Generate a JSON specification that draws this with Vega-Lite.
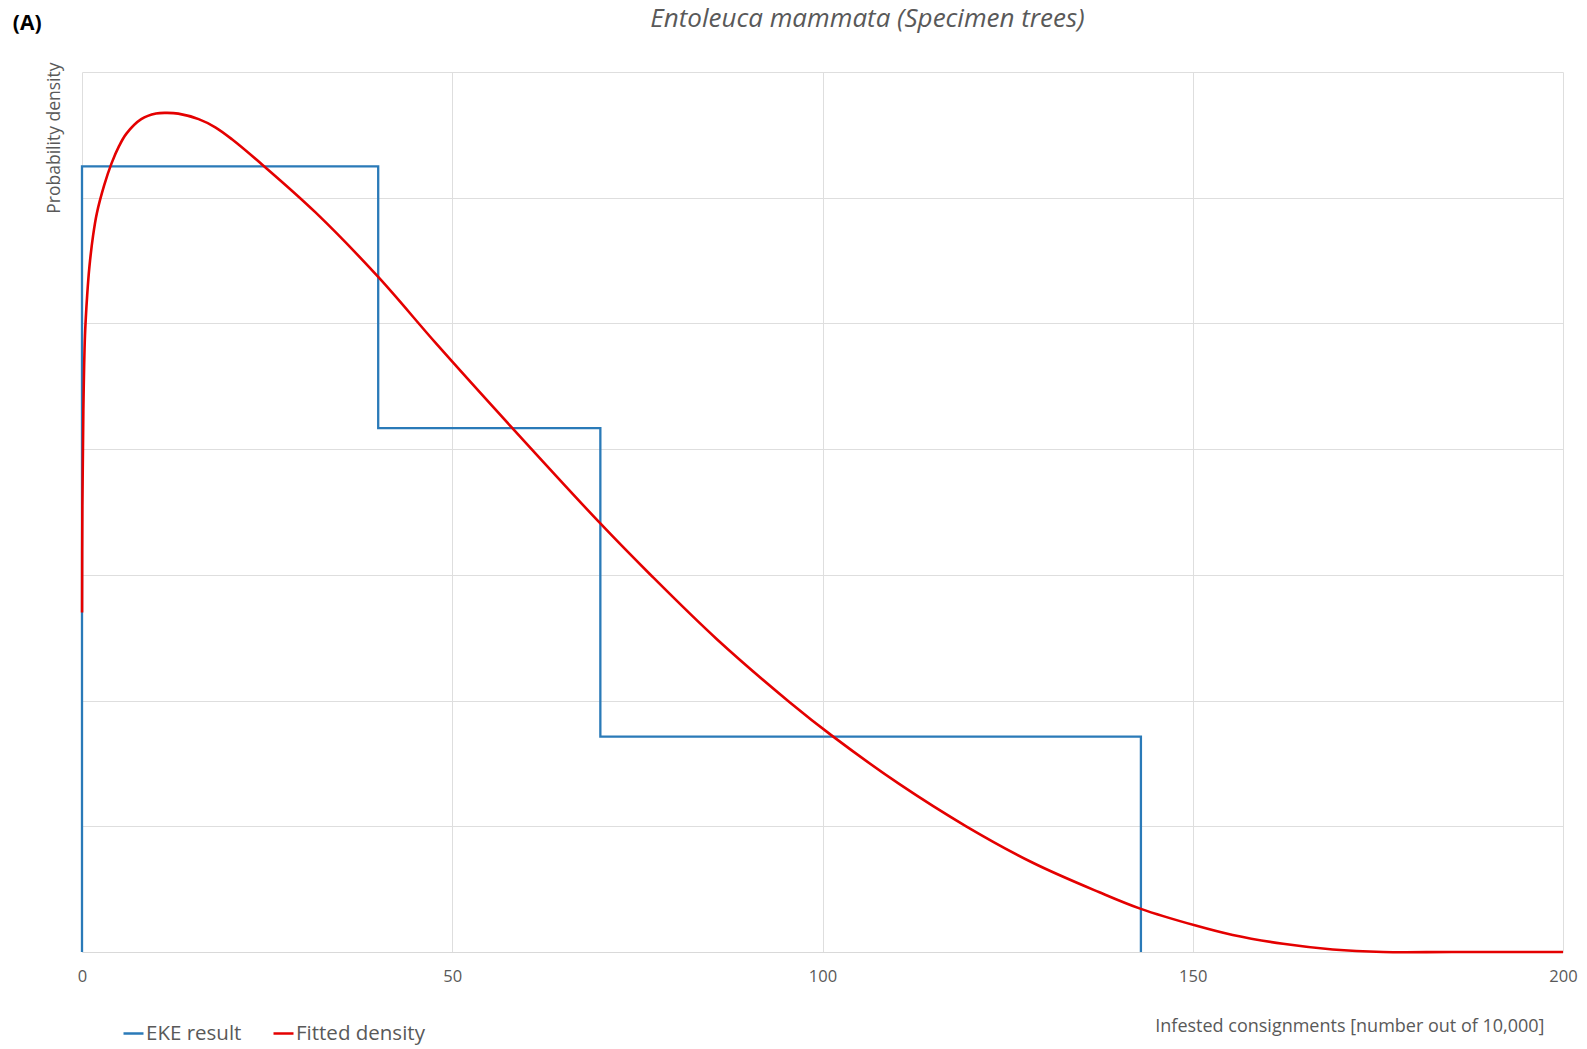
{
  "$schema": "https://vega.github.io/schema/vega-lite/v6.json",
  "autosize": "none",
  "width": 1481,
  "height": 880,
  "padding": {"left": 82, "top": 72, "right": 24, "bottom": 97},
  "background": "white",
  "title": {
    "text": "Entoleuca mammata (Specimen trees)",
    "font": "Open Sans",
    "fontStyle": "italic",
    "fontWeight": "normal",
    "fontSize": 26,
    "color": "#595959",
    "anchor": "middle",
    "dx": 45,
    "offset": -19
  },
  "config": {
    "view": {"stroke": null},
    "font": "Open Sans",
    "axis": {
      "gridColor": "#dedede",
      "gridWidth": 1,
      "domainColor": "#d9d9d9",
      "ticks": false,
      "labelFont": "Open Sans",
      "titleFont": "Open Sans",
      "labelColor": "#595959",
      "titleColor": "#595959",
      "titleFontWeight": "normal"
    }
  },
  "datasets": {
    "eke": [
      {"series": "EKE result", "x": 0, "y": 0, "order": 1},
      {"series": "EKE result", "x": 0, "y": 0.0125, "order": 2},
      {"series": "EKE result", "x": 40, "y": 0.0125, "order": 3},
      {"series": "EKE result", "x": 40, "y": 0.008333, "order": 4},
      {"series": "EKE result", "x": 70, "y": 0.008333, "order": 5},
      {"series": "EKE result", "x": 70, "y": 0.003425, "order": 6},
      {"series": "EKE result", "x": 143, "y": 0.003425, "order": 7},
      {"series": "EKE result", "x": 143, "y": 0, "order": 8}
    ],
    "fit": [
      {"series": "Fitted density", "x": 0.01, "y": 0.0054},
      {"series": "Fitted density", "x": 0.05, "y": 0.0071},
      {"series": "Fitted density", "x": 0.18, "y": 0.0086},
      {"series": "Fitted density", "x": 0.4, "y": 0.0098},
      {"series": "Fitted density", "x": 0.7, "y": 0.01045},
      {"series": "Fitted density", "x": 1.0, "y": 0.0109},
      {"series": "Fitted density", "x": 1.5, "y": 0.0114},
      {"series": "Fitted density", "x": 2.0, "y": 0.01175},
      {"series": "Fitted density", "x": 3.0, "y": 0.0122},
      {"series": "Fitted density", "x": 4.0, "y": 0.01255},
      {"series": "Fitted density", "x": 5.0, "y": 0.01282},
      {"series": "Fitted density", "x": 6.0, "y": 0.01302},
      {"series": "Fitted density", "x": 8.0, "y": 0.01325},
      {"series": "Fitted density", "x": 10.0, "y": 0.01334},
      {"series": "Fitted density", "x": 11.5, "y": 0.01335},
      {"series": "Fitted density", "x": 13.0, "y": 0.013338},
      {"series": "Fitted density", "x": 15.75, "y": 0.01325},
      {"series": "Fitted density", "x": 18.0, "y": 0.01312},
      {"series": "Fitted density", "x": 20.25, "y": 0.01293},
      {"series": "Fitted density", "x": 24.5, "y": 0.01251},
      {"series": "Fitted density", "x": 31.5, "y": 0.01177},
      {"series": "Fitted density", "x": 40, "y": 0.01074},
      {"series": "Fitted density", "x": 47.9, "y": 0.00967},
      {"series": "Fitted density", "x": 58, "y": 0.00835},
      {"series": "Fitted density", "x": 69.9, "y": 0.00683},
      {"series": "Fitted density", "x": 76.7, "y": 0.00601},
      {"series": "Fitted density", "x": 85.7, "y": 0.00498},
      {"series": "Fitted density", "x": 95.6, "y": 0.00397},
      {"series": "Fitted density", "x": 101.4, "y": 0.00343},
      {"series": "Fitted density", "x": 110.4, "y": 0.00267},
      {"series": "Fitted density", "x": 119.4, "y": 0.002},
      {"series": "Fitted density", "x": 128.4, "y": 0.00142},
      {"series": "Fitted density", "x": 137.4, "y": 0.00095},
      {"series": "Fitted density", "x": 142.9, "y": 0.00069},
      {"series": "Fitted density", "x": 150.4, "y": 0.00042},
      {"series": "Fitted density", "x": 155.4, "y": 0.00027},
      {"series": "Fitted density", "x": 162.2, "y": 0.00013},
      {"series": "Fitted density", "x": 168.9, "y": 0.00004},
      {"series": "Fitted density", "x": 175.7, "y": 0},
      {"series": "Fitted density", "x": 185, "y": 0},
      {"series": "Fitted density", "x": 200, "y": 0}
    ],
    "panel": [
      {"label": "(A)", "x": -7.4, "y": 0.01476}
    ]
  },
  "layer": [
    {
      "data": {"name": "eke"},
      "mark": {"type": "line", "strokeWidth": 2.3, "interpolate": "linear"},
      "encoding": {
        "x": {
          "field": "x",
          "type": "quantitative",
          "scale": {"domain": [0, 200], "nice": false, "zero": false},
          "axis": {
            "values": [0, 50, 100, 150, 200],
            "labelFontSize": 16.5,
            "labelPadding": 16,
            "labelFlush": false,
            "title": "Infested consignments [number out of 10,000]",
            "titleFontSize": 18,
            "titleAnchor": "end",
            "titleAlign": "right",
            "titleX": 1462,
            "titlePadding": 33,
            "grid": true
          }
        },
        "y": {
          "field": "y",
          "type": "quantitative",
          "scale": {"domain": [0, 0.014], "nice": false},
          "axis": {
            "values": [0, 0.002, 0.004, 0.006, 0.008, 0.01, 0.012, 0.014],
            "labels": false,
            "domain": false,
            "title": "Probability density",
            "titleFontSize": 17.5,
            "titleAnchor": "end",
            "titleY": -10,
            "titlePadding": 19,
            "grid": true
          }
        },
        "order": {"field": "order", "type": "quantitative"},
        "color": {
          "field": "series",
          "type": "nominal",
          "scale": {"domain": ["EKE result", "Fitted density"], "range": ["#2a7ab8", "#e40000"]},
          "legend": {
            "title": null,
            "orient": "none",
            "direction": "horizontal",
            "legendX": 40,
            "legendY": 950,
            "symbolType": "stroke",
            "symbolSize": 400,
            "symbolStrokeWidth": 2.5,
            "labelFontSize": 20.5,
            "labelColor": "#595959",
            "labelFont": "Open Sans",
            "labelOffset": 1,
            "columnPadding": 26
          }
        }
      }
    },
    {
      "data": {"name": "fit"},
      "mark": {"type": "line", "strokeWidth": 2.6, "interpolate": "catmull-rom"},
      "encoding": {
        "x": {"field": "x", "type": "quantitative"},
        "y": {"field": "y", "type": "quantitative"},
        "color": {"field": "series", "type": "nominal"}
      }
    },
    {
      "data": {"name": "panel"},
      "mark": {"type": "text", "fontWeight": "bold", "fontSize": 21, "color": "#000000", "font": "Open Sans", "align": "center", "baseline": "middle"},
      "encoding": {
        "x": {"field": "x", "type": "quantitative"},
        "y": {"field": "y", "type": "quantitative"},
        "text": {"field": "label"}
      }
    }
  ]
}
